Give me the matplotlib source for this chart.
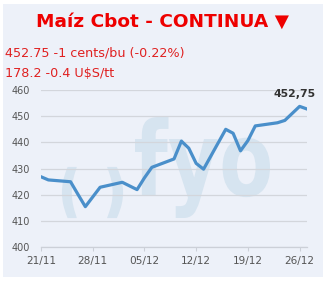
import numpy as np
import pandas as pd
import matplotlib
matplotlib.use("Agg")
import matplotlib.pyplot as plt
import matplotlib.transforms as mtransforms
from matplotlib.textpath import TextPath
from matplotlib.patches import PathPatch, Rectangle
from matplotlib.font_manager import FontProperties

# Maíz Cbot daily closes (cents/bu)
DATES = ["2024-11-21", "2024-11-22", "2024-11-25", "2024-11-26", "2024-11-27",
         "2024-11-29", "2024-12-02", "2024-12-03", "2024-12-04", "2024-12-05",
         "2024-12-06", "2024-12-09", "2024-12-10", "2024-12-11", "2024-12-12",
         "2024-12-13", "2024-12-16", "2024-12-17", "2024-12-18", "2024-12-19",
         "2024-12-20", "2024-12-23", "2024-12-24", "2024-12-26", "2024-12-27"]
PRICES = [426.9, 425.7, 425.0, 420.2, 415.5,
          422.9, 424.8, 423.4, 422.0, 426.5,
          430.5, 433.7, 440.5, 437.8, 432.0,
          429.8, 445.0, 443.5, 436.8, 440.7,
          446.3, 447.5, 448.4, 453.75, 452.75]
TICK_DATES = ["2024-11-21", "2024-11-28", "2024-12-05", "2024-12-12", "2024-12-19", "2024-12-26"]
TICK_LABELS = ["21/11", "28/11", "05/12", "12/12", "19/12", "26/12"]
Y_TICKS = [400, 410, 420, 430, 440, 450, 460]

TITLE = "Maíz Cbot - CONTINUA ▼"
LINE1 = "452.75 -1 cents/bu (-0.22%)"
LINE2 = "178.2 -0.4 U$S/tt"
LAST_LABEL = "452,75"

W, H = 329, 287
BG = "#edf1f9"
RED = "#ee0000"
BLUE = "#4a8fca"
WATER = "#d6e4f0"

t0 = pd.Timestamp(DATES[0])
xs = np.array([(pd.Timestamp(d) - t0).days for d in DATES])
xt = [(pd.Timestamp(d) - t0).days for d in TICK_DATES]

fig = plt.figure(figsize=(W / 100, H / 100), dpi=100)
fig.patch.set_facecolor("white")
fig.add_artist(Rectangle((2.5 / W, 1 - 277 / H), (323 - 2.5) / W, (277 - 4) / H,
                         transform=fig.transFigure, facecolor=BG, edgecolor="none", zorder=0))


def px(x, y):
    return x / W, 1 - y / H


fig.text(*px(163, 27), TITLE, ha="center", va="baseline", color=RED,
         fontsize=13.3, fontweight="bold")
fig.text(*px(5, 57), LINE1, ha="left", va="baseline", color="#e02020", fontsize=9.2)
fig.text(*px(5, 77), LINE2, ha="left", va="baseline", color="#e02020", fontsize=9.2)

ax = fig.add_axes([41 / W, 1 - 247.3 / H, (307 - 41) / W, (247.3 - 90) / H])
ax.set_facecolor("none")
ax.set_axisbelow(True)


def watermark(text, x0, x1, ytop, ybot, stroke=0):
    # logo text stretched into a pixel box (top-left origin) behind the data
    tp = TextPath((0, 0), text, size=1, prop=FontProperties(family="DejaVu Sans", weight="bold"))
    ext = tp.get_extents()
    sx = (x1 - x0) / ext.width / 100
    sy = (ybot - ytop) / ext.height / 100
    tr = (mtransforms.Affine2D().translate(-ext.x0, -ext.y0).scale(sx, sy)
          .translate(x0 / 100, (H - ybot) / 100) + fig.dpi_scale_trans)
    ax.add_patch(PathPatch(tp, transform=tr, facecolor=WATER, edgecolor=WATER,
                           lw=stroke, zorder=0.2, clip_on=False))


watermark("fyo", 135, 270, 117, 218)
watermark("(", 64, 74, 169, 216, stroke=3)
watermark(")", 110, 121, 169, 216, stroke=3)

ax.plot(xs, PRICES, color=BLUE, lw=2.3, solid_joinstyle="round", zorder=3)

ax.set_xlim(xs[0], xs[-1])
ax.set_ylim(400, 460)
ax.set_yticks(Y_TICKS)
ax.set_xticks(xt)
ax.set_xticklabels(TICK_LABELS)
ax.grid(axis="y", color="#d3d6dc", lw=0.9)
for s in ["top", "right", "left"]:
    ax.spines[s].set_visible(False)
ax.spines["bottom"].set_color("#ccd0d8")
ax.spines["bottom"].set_linewidth(0.9)
ax.tick_params(axis="y", length=0, pad=8, labelsize=7, labelcolor="#555555")
ax.tick_params(axis="x", length=3, width=0.8, color="#ccd0d8", pad=3,
               labelsize=7.6, labelcolor="#555555")

ax.annotate(LAST_LABEL, (xs[-1], PRICES[-1]), xytext=(-9, 9), textcoords="offset points",
            ha="center", va="baseline", fontsize=7.8, fontweight="bold", color="#333333")

fig.savefig("out.png", dpi=100, facecolor="white")
